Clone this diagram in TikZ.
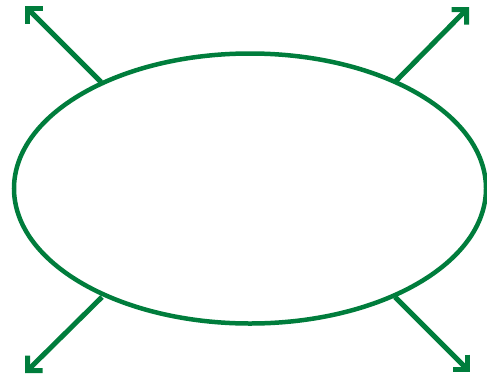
\documentclass[tikz,border=0pt]{standalone}
\usetikzlibrary{arrows.meta}
\definecolor{dgreen}{RGB}{0,125,60}
\begin{document}
\begin{tikzpicture}[x=1pt,y=-1pt,
  ring/.style={draw=dgreen,line width=4.5pt},
  ray/.style={draw=dgreen,line width=5pt,-{Straight Barb[angle=90:15pt,line join=miter,line cap=butt]}}]
\useasboundingbox (0,0) rectangle (487,378);
\draw[ring] (250,188.5) ellipse [x radius=236, y radius=135];
\coordinate (ul) at (101,82);
\coordinate (ur) at (396,81);
\coordinate (ll) at (102,297);
\coordinate (lr) at (395,297);
\coordinate (tul) at (25,6);
\coordinate (tur) at (469,7);
\coordinate (tll) at (25,373);
\coordinate (tlr) at (470,372);
\draw[ray] (ul) -- (tul);
\draw[ray] (ur) -- (tur);
\draw[ray] (ll) -- (tll);
\draw[ray] (lr) -- (tlr);
\end{tikzpicture}
\end{document}
